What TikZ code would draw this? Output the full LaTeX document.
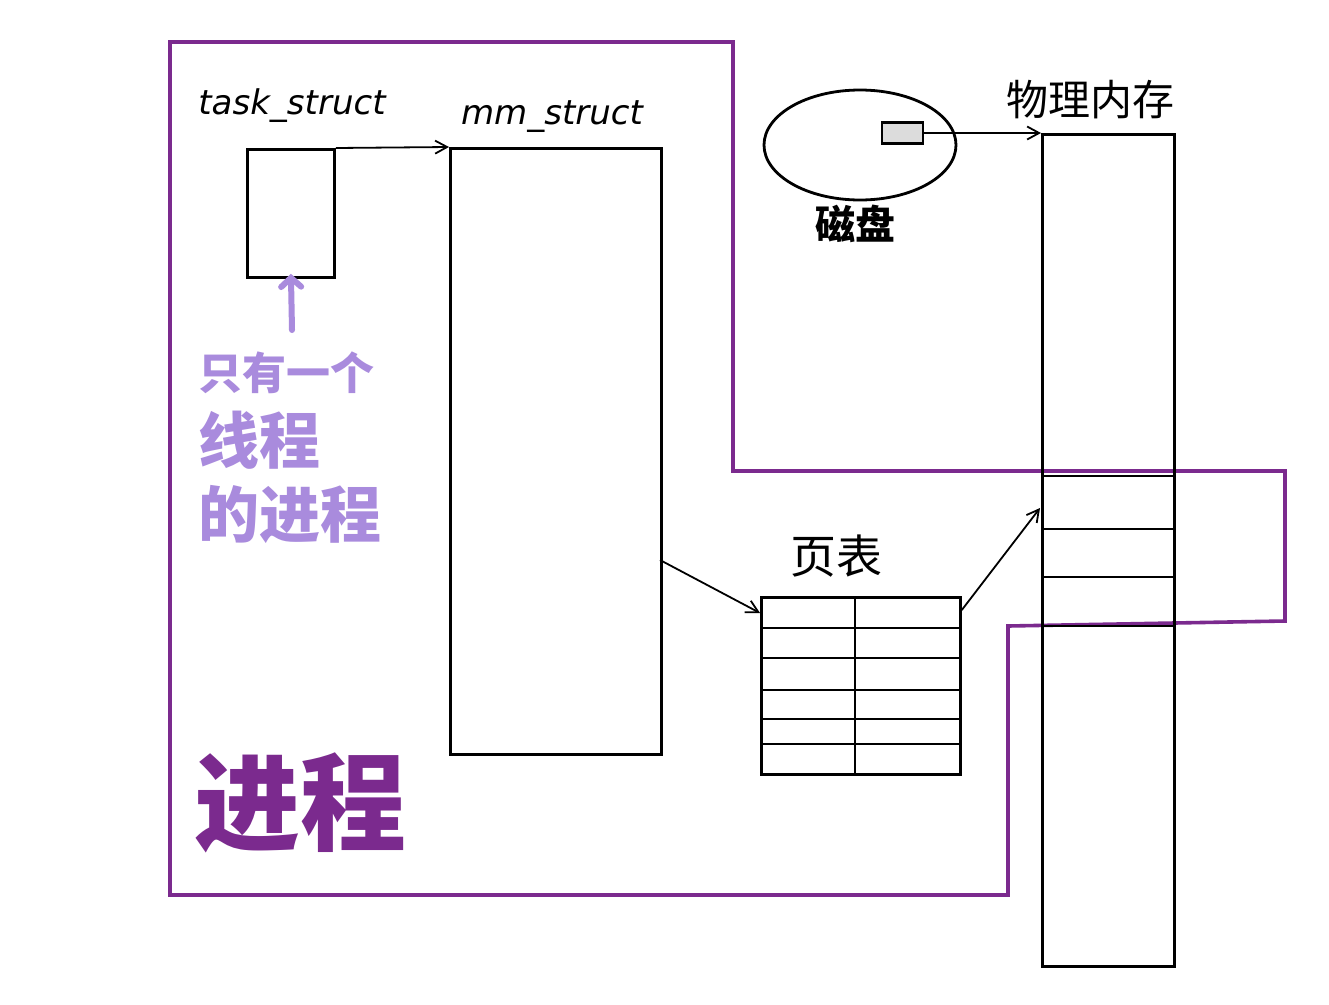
\documentclass[tikz,border=0pt]{standalone}
\usepackage{fontspec}
\newfontfamily\cjk{Noto Sans CJK SC}
\newfontfamily\hand{DejaVu Sans}
\usetikzlibrary{arrows.meta,shapes.geometric,calc}
\definecolor{procpurple}{HTML}{7B2A8E}
\definecolor{lav}{HTML}{A98BDD}
\definecolor{diskgray}{HTML}{DCDCDC}
\tikzset{
  box/.style={draw=black,line width=2.8pt,inner sep=0pt,anchor=north west},
  conn/.style={draw=black,line width=1.8pt,-{Straight Barb[length=12pt,width=13pt]}},
  lbl/.style={inner sep=0pt,font=\hand\itshape\fontsize{34}{40}\selectfont},
  zhlbl/.style={inner sep=0pt,font=\cjk\fontsize{42}{46}\selectfont},
  lavtext/.style={inner sep=0pt,text=lav,font=\cjk\bfseries\fontsize{61}{74}\selectfont,align=left,anchor=north west},
  rowline/.style={draw=black,line width=2pt},
}
\begin{document}
\begin{tikzpicture}[x=1pt,y=-1pt]
\useasboundingbox (0,0) rectangle (1329,1004);
\fill[white] (0,0) rectangle (1329,1004);
% process outline
\draw[procpurple,line width=3.6pt,line join=miter]
  (170,42) -- (733,42) -- (733,471) -- (1285,471) -- (1285,621) -- (1008,626) -- (1008,895) -- (170,895) -- cycle;
% task_struct
\node[box,minimum width=87pt,minimum height=128pt] (task) at (246,148) {};
\node[lbl] (tasklbl) at (292,106) {task\_struct};
% mm_struct
\node[box,minimum width=211pt,minimum height=606pt] (mm) at (449,147) {};
\node[lbl] (mmlbl) at (552,117) {mm\_struct};
\draw[conn] (task.north east) -- (mm.north west);
% page table
\node[box,minimum width=199pt,minimum height=177pt] (pt) at (760,596) {};
\node[zhlbl,font=\cjk\fontsize{46}{50}\selectfont] (ptlbl) at (836,556) {页表};
\draw[rowline] (855,596) -- (855,773);
\foreach \yy in {628,658,690,719,744} \draw[rowline] (760,\yy) -- (959,\yy);
\coordinate (mmout) at (660,560);
\draw[conn] (mmout) -- ($(pt.north west)+(0,17)$);
% physical memory
\node[box,minimum width=132pt,minimum height=832pt] (mem) at (1041,133) {};
\node[zhlbl] (memlbl) at (1090,100) {物理内存};
\foreach \yy in {476,529,577,626} \draw[rowline] (1041,\yy) -- (1173,\yy);
\coordinate (memin) at (1040,508);
\draw[conn] ($(pt.north east)+(0,14)$) -- (memin);
% disk
\node[ellipse,draw=black,line width=2.8pt,minimum width=192pt,minimum height=110pt,inner sep=0pt] (disk) at (860,145) {};
\node[zhlbl,font=\cjk\bfseries\fontsize{40}{44}\selectfont] (disklbl) at (855,224) {磁盘};
\node[draw=black,line width=2.4pt,fill=diskgray,minimum width=41pt,minimum height=21pt,inner sep=0pt] (blk) at (902.5,133) {};
\draw[conn] (blk.east) -- (blk.east -| mem.west);
% annotation
\node[lavtext] (note) at (198,352) {{\fontsize{44}{74}\selectfont 只有一个}\\ 线程\\ 的进程};
\coordinate (notetop) at (292,330);
\draw[lav,line width=6pt,line cap=round,-{Straight Barb[length=9pt,width=20pt,line cap=round]}] (notetop) -- ([yshift=5pt]task.south);
% process label
\node[inner sep=0pt,text=procpurple,font=\cjk\bfseries\fontsize{106}{116}\selectfont] (proclbl) at (300,803) {进程};
\end{tikzpicture}
\end{document}
